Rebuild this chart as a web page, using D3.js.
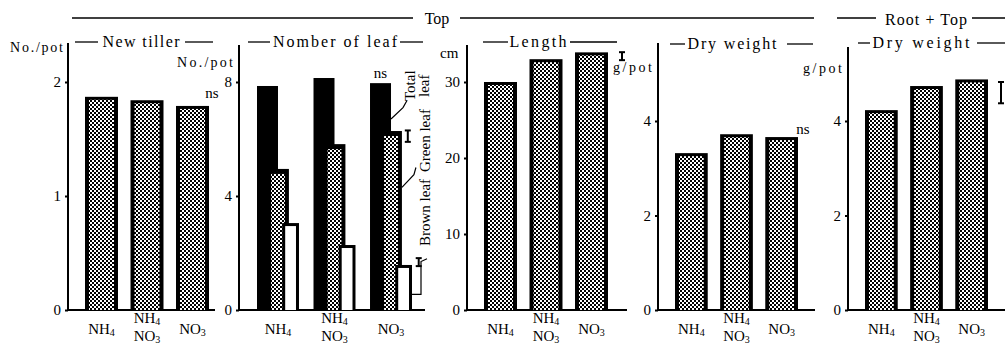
<!DOCTYPE html>
<html><head><meta charset="utf-8">
<script src="https://cdn.jsdelivr.net/npm/d3@7/dist/d3.min.js"></script>
<style>
html,body{margin:0;padding:0;background:#fff;}
svg{display:block;}
svg text{font-family:"Liberation Serif","Times New Roman","DejaVu Serif",serif !important;font-weight:normal;}
</style></head>
<body><svg id="c" width="1005" height="348"></svg>
<script>
// ---- data ----
const categories = ["NH4", "NH4NO3", "NO3"];
const tillerValues = [1.87, 1.84, 1.79];
const totalLeafValues = [7.86, 8.14, 7.96];
const greenLeafValues = [4.95, 5.82, 6.28];
const brownLeafValues = [3.05, 2.28, 1.58];
const lengthValues = [30.0, 33.0, 33.9];
const topDryValues = [3.32, 3.72, 3.66];
const rootTopDryValues = [4.23, 4.74, 4.88];
const tillerTicks = [0, 1, 2];
const leafTicks = [0, 4, 8];
const lengthTicks = [0, 10, 20, 30];
const topDryTicks = [0, 2, 4];
const rootTopTicks = [0, 2, 4];
// LSD marks: [center value, full length]
const greenLsd = [6.1, 0.4];
const brownLsd = [1.68, 0.28];
const lengthLsd = [33.4, 1.05];
const rootTopLsd = [4.6, 0.45];
const catLines = {NH4: [["NH", "4"]], NH4NO3: [["NH", "4"], ["NO", "3"]], NO3: [["NO", "3"]]};

const FONT = "Liberation Serif, Times New Roman, DejaVu Serif, serif";
const svg = d3.select("#c").attr("font-family", FONT);
const defs = svg.append("defs");
const pat = defs.append("pattern").attr("id", "chk").attr("patternUnits", "userSpaceOnUse")
  .attr("width", 4).attr("height", 4);
pat.append("rect").attr("width", 4).attr("height", 4).attr("fill", "#000");
pat.append("rect").attr("x", 0).attr("y", 0).attr("width", 2).attr("height", 2).attr("fill", "#fff");
pat.append("rect").attr("x", 2).attr("y", 2).attr("width", 2).attr("height", 2).attr("fill", "#fff");

const BASE = 310;
const FS = 15;

function text(x, y, s, opts = {}) {
  const t = svg.append("text").attr("x", x).attr("y", y).text(s)
    .attr("font-family", FONT)
    .attr("font-size", opts.size || FS).attr("fill", "#000")
    .attr("text-anchor", opts.anchor || "start");
  if (opts.len) t.attr("textLength", opts.len).attr("lengthAdjust", "spacing");
  return t;
}
function hline(x1, x2, y, w = 1.3) {
  svg.append("line").attr("x1", x1).attr("x2", x2).attr("y1", y).attr("y2", y)
    .attr("stroke", "#000").attr("stroke-width", w);
}
function catLabel(cx, key) {
  const lines = catLines[key];
  const ys = lines.length === 1 ? [334] : [323, 341];
  lines.forEach((ln, i) => {
    const t = svg.append("text").attr("x", cx).attr("y", ys[i]).attr("text-anchor", "middle")
      .attr("font-family", FONT).attr("font-size", FS);
    t.append("tspan").text(ln[0]);
    t.append("tspan").attr("font-size", 10).attr("dy", 2).text(ln[1]);
  });
}
function lsdMark(x, y, c) {
  const y1 = y(c[0] + c[1] / 2), y2 = y(c[0] - c[1] / 2);
  const g = svg.append("g").attr("stroke", "#000").attr("stroke-width", 2);
  g.append("line").attr("x1", x).attr("x2", x).attr("y1", y1).attr("y2", y2);
  g.append("line").attr("x1", x - 3).attr("x2", x + 3).attr("y1", y1).attr("y2", y1);
  g.append("line").attr("x1", x - 3).attr("x2", x + 3).attr("y1", y2).attr("y2", y2);
}
function axisFrame(p, ticks) {
  const y = d3.scaleLinear().domain([0, ticks[ticks.length - 1]]).range([BASE, p.yTop]);
  svg.append("line").attr("x1", p.axisX).attr("x2", p.axisX).attr("y1", p.axisTop).attr("y2", BASE + 1)
    .attr("stroke", "#000").attr("stroke-width", 2);
  hline(p.axisX - 1, p.baseEnd, BASE, 2.2);
  const ax = svg.append("g").attr("transform", `translate(${p.axisX},0)`)
    .call(d3.axisLeft(y).tickValues(ticks).tickSize(3).tickPadding(4).tickFormat(d3.format("d")));
  ax.attr("font-family", FONT).attr("font-size", FS);
  ax.select(".domain").remove();
  ax.selectAll("line").attr("stroke-width", 2);
  ax.selectAll("text").attr("font-size", FS).attr("font-family", FONT);
  return y;
}
function patternBars(x, y, vals) {
  categories.forEach((c, i) => {
    const bx = x(c), bw = x.bandwidth(), top = y(vals[i]);
    svg.append("rect").attr("x", bx).attr("y", top).attr("width", bw).attr("height", BASE - top).attr("fill", "#000");
    svg.append("rect").attr("x", bx + 4).attr("y", top + 3).attr("width", bw - 8).attr("height", BASE - top - 3)
      .attr("fill", "url(#chk)");
    catLabel(bx + bw / 2, c);
  });
}
function band(r) {
  return d3.scaleBand().domain(categories).range(r).paddingInner(0.275).paddingOuter(0);
}

// ---- header ----
hline(72, 413, 18);
text(437, 24, "Top", {anchor: "middle", size: 16});
hline(460, 814, 18);
hline(837, 876, 18);
text(926, 25, "Root + Top", {anchor: "middle", size: 16, len: 82});
hline(972, 1005, 18);

// ---- panel 1: New tiller ----
{
  const p = {axisX: 68, axisTop: 43, yTop: 82, baseEnd: 215};
  const y = axisFrame(p, tillerTicks);
  patternBars(band([85, 209]), y, tillerValues);
  hline(75, 98, 42); text(141, 47, "New tiller", {anchor: "middle", size: 16, len: 77}); hline(185, 213, 42);
  text(10, 52, "No./pot", {size: 14, len: 53});
  text(212, 98, "ns", {anchor: "middle", size: 15});
}

// ---- panel 2: Number of leaf ----
{
  const p = {axisX: 239, axisTop: 45, yTop: 82, baseEnd: 425};
  const y = axisFrame(p, leafTicks);
  const x = d3.scaleBand().domain(categories).range([257, 412]).paddingInner(0.257).paddingOuter(0);
  const bw = x.bandwidth();
  categories.forEach((c, i) => {
    const L = x(c);
    const tt = y(totalLeafValues[i]);
    svg.append("rect").attr("x", L).attr("y", tt).attr("width", bw * 0.5).attr("height", BASE - tt).attr("fill", "#000");
    const gt = y(greenLeafValues[i]);
    const gx = L + bw * 0.24, gw = bw * 0.52;
    svg.append("rect").attr("x", gx).attr("y", gt).attr("width", gw).attr("height", BASE - gt).attr("fill", "#000");
    svg.append("rect").attr("x", gx + 4).attr("y", gt + 5).attr("width", gw - 8).attr("height", BASE - gt - 5).attr("fill", "url(#chk)");
    const btp = y(brownLeafValues[i]);
    const bx = L + bw * 0.6, bwd = bw * 0.4;
    svg.append("rect").attr("x", bx).attr("y", btp).attr("width", bwd).attr("height", BASE - btp).attr("fill", "#000");
    svg.append("rect").attr("x", bx + 3).attr("y", btp + 3).attr("width", bwd - 6).attr("height", BASE - btp - 3).attr("fill", "#fff");
    catLabel(L + bw / 2, c);
  });
  hline(248, 270, 42); text(335, 47, "Nomber of leaf", {anchor: "middle", size: 16, len: 124}); hline(400, 423, 42);
  text(233, 67, "No./pot", {anchor: "end", size: 14, len: 56});
  const last = categories[2], L = x(last);
  text(L + bw * 0.25, 78, "ns", {anchor: "middle", size: 15});
  lsdMark(L + bw * 0.9, y, greenLsd);
  lsdMark(L + bw * 1.16, y, brownLsd);
  // rotated labels
  function rot(xb, ys, s) {
    svg.append("text").attr("transform", `translate(${xb},${ys}) rotate(-90)`)
      .attr("font-family", FONT).attr("font-size", FS).text(s);
  }
  rot(415, 101, "Total");
  rot(429, 97, "leaf");
  rot(430, 172, "Green leaf");
  rot(430, 246, "Brown leaf");
  const lead = d3.line();
  const gEdge = L + bw * 0.76, bEdge = L + bw;
  svg.append("path").attr("d", lead([[L + bw * 0.5, y(6.7)], [L + bw * 0.5 + 12, y(7.1)], [L + bw * 0.5 + 16, y(7.35)]]))
    .attr("fill", "none").attr("stroke", "#000").attr("stroke-width", 1.2);
  svg.append("path").attr("d", lead([[gEdge, y(4.3)], [gEdge + 12, y(4.75)], [gEdge + 14, y(5.0)]]))
    .attr("fill", "none").attr("stroke", "#000").attr("stroke-width", 1.2);
  svg.append("path").attr("d", lead([[bEdge, y(0.55)], [bEdge + 9, y(0.55)], [bEdge + 9, y(1.7)], [bEdge + 15, y(1.8)]]))
    .attr("fill", "none").attr("stroke", "#000").attr("stroke-width", 1.2);
}

// ---- panel 3: Length ----
{
  const p = {axisX: 467, axisTop: 45, yTop: 82, baseEnd: 627};
  const y = axisFrame(p, lengthTicks);
  const x = band([484, 608]);
  patternBars(x, y, lengthValues);
  hline(483, 508, 42); text(538, 47, "Length", {anchor: "middle", size: 16, len: 57}); hline(570, 617, 42);
  text(440, 58, "cm", {size: 15});
  lsdMark(622, y, lengthLsd);
}

// ---- panel 4: Dry weight (Top) ----
{
  const p = {axisX: 658, axisTop: 43, yTop: 121, baseEnd: 815};
  const y = axisFrame(p, topDryTicks);
  patternBars(band([675, 798]), y, topDryValues);
  hline(670, 685, 44); text(732, 49, "Dry weight", {anchor: "middle", size: 16, len: 89}); hline(787, 813, 44);
  text(613, 72, "g/pot", {size: 14, len: 39});
  text(803, 134, "ns", {anchor: "middle", size: 15});
}

// ---- panel 5: Dry weight (Root + Top) ----
{
  const p = {axisX: 848, axisTop: 47, yTop: 121, baseEnd: 1005};
  const y = axisFrame(p, rootTopTicks);
  patternBars(band([865, 988]), y, rootTopDryValues);
  hline(858, 870, 43); text(921, 48, "Dry weight", {anchor: "middle", size: 16, len: 97}); hline(977, 1005, 43);
  text(803, 73, "g/pot", {size: 14, len: 39});
  lsdMark(1001, y, rootTopLsd);
}
</script></body></html>
